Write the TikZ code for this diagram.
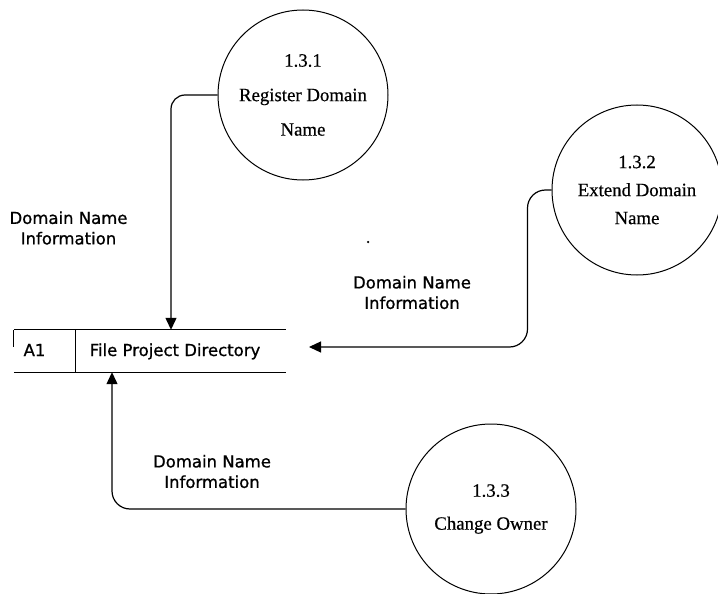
\documentclass[tikz,border=0pt]{standalone}
\usepackage{fontspec}
\usetikzlibrary{arrows.meta}
\newfontfamily\lblfont[FakeBold=0.9]{DejaVu Sans}
\newfontfamily\procfont[FakeBold=0.5]{Liberation Serif}
\begin{document}
\begin{tikzpicture}[x=1pt,y=-1pt,
  process/.style={draw, circle, line width=1pt, minimum size=170pt, inner sep=0pt, align=center},
  flow/.style={draw, line width=1.2pt, -{Triangle[width=11pt,length=12pt]}},
  flowlabel/.style={align=center, inner sep=0pt, font=\lblfont\fontsize{16.5}{20.5}\selectfont},
  storetext/.style={inner sep=0pt, anchor=base, font=\lblfont\fontsize{16.5}{20}\selectfont},
  storeline/.style={line width=1.2pt}
]
\useasboundingbox (0,0) rectangle (718,594);

% processes
\node[process, font=\procfont\fontsize{18.8}{34.5}\selectfont] (c1) at (303,95) {1.3.1\\Register Domain\\Name};
\node[process, font=\procfont\fontsize{18.8}{28}\selectfont] (c2) at (637,190) {1.3.2\\Extend Domain\\Name};
\node[process, font=\procfont\fontsize{18.8}{33}\selectfont] (c3) at (491,509) {1.3.3\\Change Owner};

% data store
\node[minimum width=272pt, minimum height=42pt, inner sep=0pt] (store) at (150,351) {};
\draw[storeline] (store.north west) -- (store.north east);
\draw[storeline] (store.south west) -- (store.south east);
\draw[storeline] (store.north west) -- ++(0,17);
\draw[line width=1pt] ([xshift=62pt]store.north west) -- ([xshift=62pt]store.south west);
\node[storetext] (a1) at (34.5,356) {A1};
\node[storetext] (fpd) at (175,356) {File Project Directory};

% connectors
\coordinate (a2) at (309,347);
\draw[flow, rounded corners=14pt] (c1.west) -| ([xshift=21pt]store.north);
\draw[flow, rounded corners=18pt] (c2.west) -- ++(-24,0) |- (a2);
\draw[flow, rounded corners=18pt] (c3.west) -| ([xshift=-38pt]store.south);

% labels
\node[flowlabel] (l1) at (68.5,228) {Domain Name\\Information};
\node[flowlabel] (l2) at (412,292.5) {Domain Name\\Information};
\node[flowlabel] (l3) at (212,471.5) {Domain Name\\Information};

% stray mark
\node[circle, fill, inner sep=0pt, minimum size=2.5pt] (dot) at (368,242) {};
\end{tikzpicture}
\end{document}
